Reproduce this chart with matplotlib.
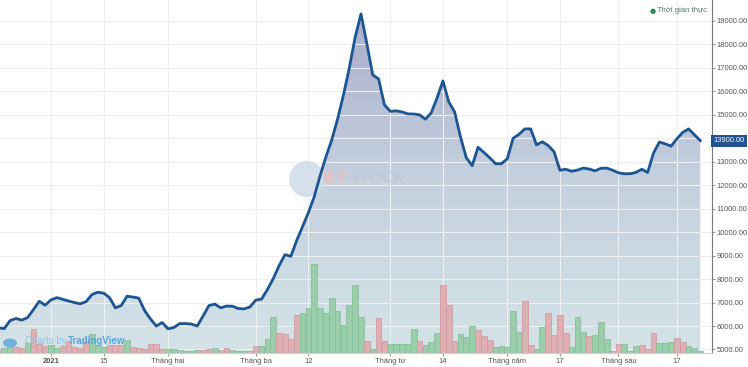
import matplotlib.pyplot as plt
import numpy as np
from matplotlib.colors import LinearSegmentedColormap
from matplotlib.patches import Ellipse
from matplotlib.transforms import blended_transform_factory

plt.rcParams["font.family"] = ["Liberation Sans", "DejaVu Sans"]

# trading-session index, 0 = first session of 2021
start_idx = -9

close = [
    5920, 5890, 6230, 6320, 6250, 6360, 6700, 7055, 6885,
    7115, 7210, 7140, 7065, 7000, 6945, 7040, 7340, 7440, 7400,
    7210, 6775, 6870, 7270, 7235, 7190, 6660, 6300, 6000, 6150,
    5880, 5935, 6105, 6105, 6085, 6000, 6425, 6870, 6935, 6775,
    6850, 6845, 6745, 6730, 6810, 7100, 7150, 7555, 8020, 8575,
    9040, 8970, 9640, 10235, 10830, 11510, 12400, 13210, 13935, 14830,
    15850, 17000, 18320, 19300, 18020, 16700, 16530, 15425, 15150, 15170,
    15125, 15040, 15035, 15000, 14815, 15085, 15720, 16445, 15550, 15125,
    14060, 13170, 12830, 13615, 13400, 13170, 12915, 12915, 13125, 14000,
    14170, 14400, 14400, 13720, 13850, 13690, 13425, 12640, 12680, 12595,
    12645, 12730, 12690, 12615, 12720, 12730, 12640, 12530, 12490, 12490,
    12545, 12680, 12545, 13370, 13840, 13765, 13665, 13980, 14250, 14400,
    14150, 13900,
]

volume = [
    3, 5, 6, 6, 5, 10, 24, 9, 7,
    8, 5, 7, 12, 6, 5, 12, 19, 8, 6,
    8, 8, 8, 13, 6, 5, 4, 9, 9, 4,
    4, 4, 3, 2, 2, 3, 3, 4, 5, 3,
    5, 3, 2, 2, 2, 7, 7, 14, 36, 20,
    19, 14, 38, 40, 45, 89, 45, 40, 55, 42,
    28, 48, 68, 36, 12, 4, 35, 12, 9, 9,
    9, 9, 24, 12, 8, 11, 20, 68, 48, 12,
    19, 16, 27, 23, 17, 13, 6, 7, 6, 42,
    21, 52, 8, 4, 26, 40, 18, 38, 20, 6,
    36, 21, 17, 18, 31, 14, 2, 9, 9, 2,
    7, 8, 4, 20, 10, 10, 11, 15, 11, 7,
    5, 2,
]

# u = up session (green bar), d = down session (red bar)
vol_dir = (
    "duuddudd"
    "duuddddduuu"
    "dddudddddd"
    "uuuuuudduddu"
    "uuddu"
    "uudddduuuuuuuuuuududd"
    "uuuuudu"
    "uuddduuudddu"
    "uuuudduudddduuuduuudd"
    "uuuddduuudd"
)

tick_pos = [0, 9, 20, 35, 44, 58, 67, 78, 87, 97, 107]
tick_labels = ["2021", "15", "Tháng hai", "Tháng ba", "12", "Tháng tư",
               "14", "Tháng năm", "17", "Tháng sáu", "17"]
price_grid = list(range(5000, 19001, 1000))
last_price = 13900

x = np.arange(start_idx, start_idx + len(close))
dirs = (vol_dir + "u" * len(volume))[:len(volume)]

W, H = 748, 367
fig = plt.figure(figsize=(W / 100, H / 100), dpi=100)
rect = [0, 14 / H, 712 / W, 353 / H]
xlim = (-8.72, 113.0)
ylim = (4850, 19893)

# back layer: grid + gradient area
ax_back = fig.add_axes(rect)
ax_back.set_xlim(*xlim)
ax_back.set_ylim(*ylim)
ax_back.set_xticks(tick_pos)
ax_back.set_yticks(price_grid)
ax_back.grid(True, color="#efefef", lw=0.8)
ax_back.tick_params(length=0, labelbottom=False, labelleft=False)
for s in ax_back.spines.values():
    s.set_visible(False)

cmap = LinearSegmentedColormap.from_list("area", ["#d4e3e7", "#c5d1df", "#a9acca"])
grad = np.linspace(0, 1, 256).reshape(-1, 1)
im = ax_back.imshow(grad, extent=[xlim[0], xlim[1], ylim[0], 19400],
                    origin="lower", aspect="auto", cmap=cmap, zorder=1)
poly = ax_back.fill_between(x, close, ylim[0], facecolor="none", edgecolor="none")
im.set_clip_path(poly.get_paths()[0], transform=ax_back.transData)

# middle layer: volume bars + watermarks
ax_vol = fig.add_axes(rect)
ax_vol.patch.set_visible(False)
ax_vol.set_xlim(*xlim)
ax_vol.set_ylim(0, 353)
face = ["#9ccdab" if d == "u" else "#ddafb3" for d in dirs]
edge = ["#84c199" if d == "u" else "#d39ca1" for d in dirs]
ax_vol.bar(x, volume, width=0.98, color=face, edgecolor=edge, linewidth=0.6)
ax_vol.set_axis_off()

tf = fig.transFigure
ax_vol.add_patch(Ellipse((307 / W, 1 - 179 / H), 36 / W, 36 / H, transform=tf,
                         facecolor="#cfdbe7", edgecolor="none", alpha=0.85))
ax_vol.text(322 / W, 1 - 178 / H, "IET", transform=tf, fontsize=10.5,
            fontweight="bold", color="#e6c0c6", va="center", ha="left",
            family="DejaVu Sans")
ax_vol.text(349 / W, 1 - 178 / H, "STOCK", transform=tf, fontsize=10.5,
            fontweight="bold", color="#bfcadb", va="center", ha="left",
            family="DejaVu Sans")

# TradingView credit
ax_vol.add_patch(Ellipse((10 / W, 1 - 343 / H), 14 / W, 9 / H, transform=tf,
                         facecolor="#6fb0de", edgecolor="none"))
ax_vol.text(25 / W, 1 - 341 / H, "Charts by", transform=tf, fontsize=7,
            color="#8cc4ea", va="center", ha="left")
ax_vol.text(68 / W, 1 - 341 / H, "TradingView", transform=tf, fontsize=7,
            color="#5aa5dc", va="center", ha="left", fontweight="bold")

# front layer: price line + axes
ax = fig.add_axes(rect)
ax.patch.set_visible(False)
ax.set_xlim(*xlim)
ax.set_ylim(*ylim)
ax.plot(x, close, color="#1c5593", lw=2, solid_joinstyle="round")

ax.yaxis.tick_right()
yt = [v for v in price_grid if abs(v - last_price) > 500]
ax.set_yticks(yt, [f"{v:.2f}" for v in yt])
ax.set_xticks(tick_pos, tick_labels)
ax.tick_params(axis="both", labelsize=5.4, labelcolor="#555555",
               color="#999999", length=2.5, pad=1)
ax.get_xticklabels()[0].set_fontweight("bold")
for s in ["top", "left"]:
    ax.spines[s].set_visible(False)
ax.spines["right"].set_color("#7a7a7a")
ax.spines["bottom"].set_color("#d0d0d0")

trans = blended_transform_factory(ax.transAxes, ax.transData)
ax.text(1.002, last_price, f"{last_price:.2f}", transform=trans, fontsize=5.4,
        color="white", va="center", ha="left",
        bbox=dict(boxstyle="square,pad=0.35", fc="#1f5590", ec="none"))

# legend
ax.text(653 / W, 1 - 11 / H, "●", transform=tf, fontsize=5, color="#2e8b57",
        va="center", ha="center", family="DejaVu Sans")
ax.text(657 / W, 1 - 11 / H, "Thời gian thực", transform=tf, fontsize=5.5,
        color="#4d7a66", va="center", ha="left")

fig.savefig("out.png", dpi=100)
